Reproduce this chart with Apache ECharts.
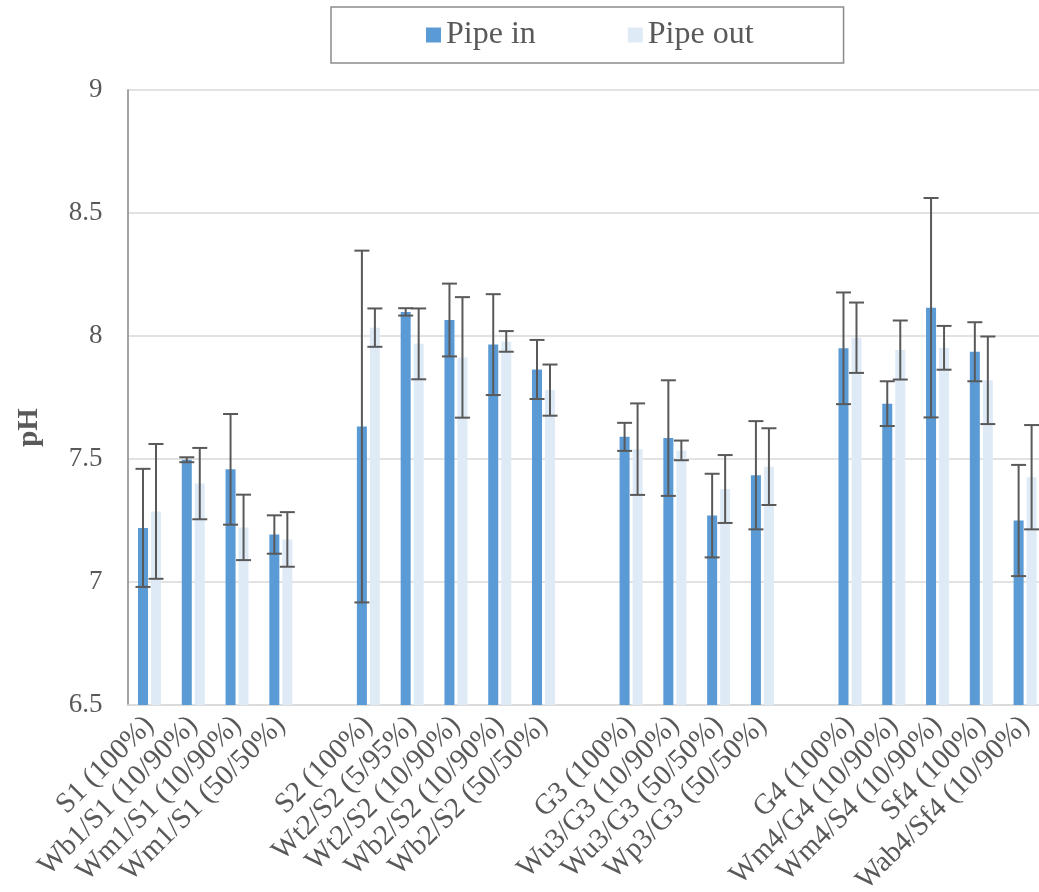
<!DOCTYPE html>
<html>
<head>
<meta charset="utf-8">
<script src="https://cdn.jsdelivr.net/npm/echarts@6/dist/echarts.min.js"></script>
<style>
html,body{margin:0;padding:0;background:#fff;}
#chart{width:1039px;height:892px;}
</style>
</head>
<body>
<div id="chart"></div>
<script>
var categories = ['S1 (100%)','Wb1/S1 (10/90%)','Wm1/S1 (10/90%)','Wm1/S1 (50/50%)','',
  'S2 (100%)','Wt2/S2 (5/95%)','Wt2/S2 (10/90%)','Wb2/S2 (10/90%)','Wb2/S2 (50/50%)','',
  'G3 (100%)','Wu3/G3 (10/90%)','Wu3/G3 (50/50%)','Wp3/G3 (50/50%)','',
  'G4 (100%)','Wm4/G4 (10/90%)','Wm4/S4 (10/90%)','Sf4 (100%)','Wab4/Sf4 (10/90%)'];
var pipeIn = [7.22, 7.497, 7.458, 7.193, null, 7.632, 8.098, 8.065, 7.965, 7.864, null,
  7.59, 7.585, 7.27, 7.434, null, 7.95, 7.725, 8.115, 7.936, 7.25];
var pipeInErr = [0.24, 0.01, 0.225, 0.078, null, 0.715, 0.015, 0.148, 0.205, 0.12, null,
  0.057, 0.235, 0.17, 0.22, null, 0.227, 0.091, 0.446, 0.12, 0.226];
var pipeOut = [7.287, 7.40, 7.222, 7.173, null, 8.034, 7.968, 7.913, 7.978, 7.78, null,
  7.54, 7.535, 7.378, 7.469, null, 7.993, 7.943, 7.952, 7.82, 7.426];
var pipeOutErr = [0.274, 0.145, 0.133, 0.111, null, 0.078, 0.144, 0.245, 0.042, 0.104, null,
  0.186, 0.04, 0.138, 0.156, null, 0.143, 0.12, 0.089, 0.178, 0.212];
var yTicks = [6.5, 7, 7.5, 8, 8.5, 9];

var FONT = '"Liberation Serif", "Times New Roman", serif';
var BAR_W = 10, BAR_GAP_PX = 3, CAP = 15;

function errData(vals, errs) {
  var out = [];
  for (var i = 0; i < vals.length; i++) {
    if (vals[i] == null) continue;
    out.push([i, vals[i] - errs[i], vals[i] + errs[i]]);
  }
  return out;
}
function errRender(sign) {
  return function (params, api) {
    var lo = api.coord([api.value(0), api.value(1)]);
    var hi = api.coord([api.value(0), api.value(2)]);
    var cx = lo[0] + sign * (BAR_W + BAR_GAP_PX) / 2;
    var st = {stroke: '#595959', lineWidth: 2};
    return {
      type: 'group',
      children: [
        {type: 'line', shape: {x1: cx, y1: lo[1], x2: cx, y2: hi[1]}, style: st},
        {type: 'line', shape: {x1: cx - CAP / 2, y1: lo[1], x2: cx + CAP / 2, y2: lo[1]}, style: st},
        {type: 'line', shape: {x1: cx - CAP / 2, y1: hi[1], x2: cx + CAP / 2, y2: hi[1]}, style: st}
      ]
    };
  };
}

var chart = echarts.init(document.getElementById('chart'));
chart.setOption({
  backgroundColor: '#fff',
  animation: false,
  textStyle: {fontFamily: FONT},
  legend: {
    data: ['Pipe in', 'Pipe out'],
    left: 331, top: 7,
    padding: [12, 90, 12, 95],
    itemGap: 92,
    itemWidth: 15, itemHeight: 15,
    icon: 'rect',
    borderColor: '#8c8c8c', borderWidth: 1.5,
    textStyle: {fontFamily: FONT, fontSize: 32, color: '#595959'}
  },
  grid: {left: 127.6, right: -8, top: 90, bottom: 187, containLabel: false, outerBoundsMode: 'none'},
  xAxis: {
    type: 'category',
    data: categories,
    boundaryGap: true,
    axisLine: {show: true, lineStyle: {color: '#d9d9d9', width: 1.5}},
    axisTick: {show: false},
    axisLabel: {interval: 0, rotate: 45, margin: 16, padding: [18, 0, 0, 0],
      fontFamily: FONT, fontSize: 29, color: '#595959'}
  },
  yAxis: {
    type: 'value',
    min: yTicks[0], max: yTicks[yTicks.length - 1], interval: 0.5,
    name: 'pH',
    nameLocation: 'middle',
    nameGap: 84,
    nameTextStyle: {fontFamily: FONT, fontSize: 29, fontWeight: 'bold', color: '#595959', padding: [0, 60, 0, 0]},
    axisLine: {show: true, lineStyle: {color: '#868686', width: 1.5}},
    axisTick: {show: false},
    axisLabel: {margin: 25, fontFamily: FONT, fontSize: 27, color: '#595959'},
    splitLine: {show: true, lineStyle: {color: '#d9d9d9', width: 1.5}}
  },
  series: [
    {name: 'Pipe in', type: 'bar', data: pipeIn, barWidth: BAR_W, barGap: '30%',
      itemStyle: {color: '#5b9bd5'}},
    {name: 'Pipe out', type: 'bar', data: pipeOut, barWidth: BAR_W, barGap: '30%',
      itemStyle: {color: '#deebf7'}},
    {type: 'custom', renderItem: errRender(-1), data: errData(pipeIn, pipeInErr),
      encode: {x: 0, y: [1, 2]}, z: 5, silent: true},
    {type: 'custom', renderItem: errRender(1), data: errData(pipeOut, pipeOutErr),
      encode: {x: 0, y: [1, 2]}, z: 5, silent: true}
  ]
});
</script>
</body>
</html>
